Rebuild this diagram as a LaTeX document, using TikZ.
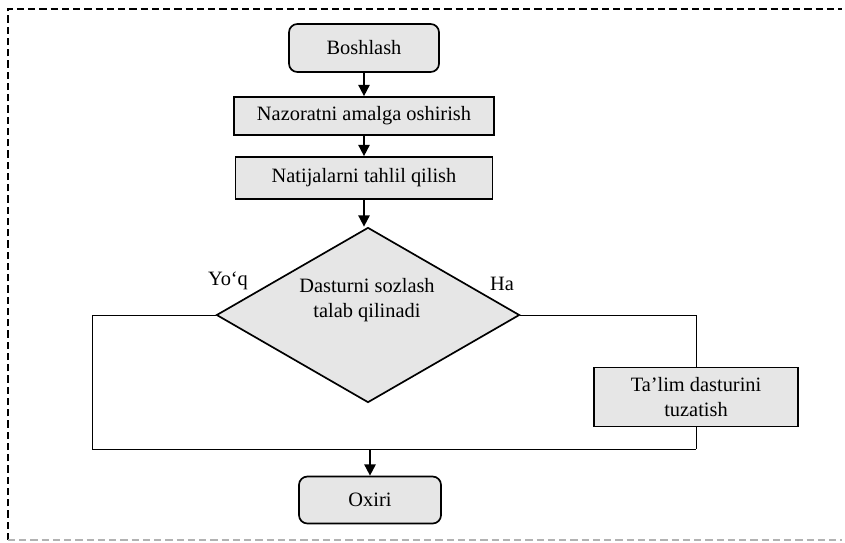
\documentclass[tikz,border=0pt]{standalone}
\usepackage{fontspec}
\setmainfont{Liberation Serif}
\usetikzlibrary{shapes.geometric,arrows.meta}
\definecolor{boxgray}{RGB}{230,230,230}
\begin{document}
\begin{tikzpicture}[x=0.025cm,y=-0.025cm,
    every node/.style={font=\fontsize{14.5}{18}\selectfont},
    terminal/.style={draw,line width=1.2pt,fill=boxgray,rounded corners=6pt,inner sep=0pt},
    stepbox/.style={draw,line width=1.2pt,fill=boxgray,inner sep=0pt,align=center},
    decision/.style={draw,line width=1.2pt,fill=boxgray,diamond,inner sep=0pt},
    arr/.style={line width=1.2pt,-{Triangle[length=8pt,width=8pt]}},
    loop/.style={line width=0.7pt}]
  \useasboundingbox (0,0) rectangle (845,542);
  % frame
  \draw [line width=1.1pt,dash pattern=on 5pt off 3pt] (8,540) -- (8,9) -- (842,9);
  \draw [gray!60,line width=1.1pt,dash pattern=on 5pt off 3pt] (8,540) -- (842,540);

  \node [terminal,minimum width=3.75cm,minimum height=1.2cm] (start) at (364,48) {Boshlash};
  \node [stepbox,minimum width=6.5cm,minimum height=0.95cm] (control) at (364,116) {Nazoratni amalga oshirish};
  \node [stepbox,minimum width=6.425cm,minimum height=1.05cm] (analyse) at (364,178) {Natijalarni tahlil qilish};
  \node [decision,minimum width=7.575cm,minimum height=4.375cm] (dec) at (368,315) {};
   \node [align=center] (dectext) at (367,300) {Dasturni sozlash\\talab qilinadi};
  \node [stepbox,minimum width=5.1cm,minimum height=1.475cm] (fix) at (696,397) {Ta’lim dasturini\\tuzatish};
  \node [terminal,minimum width=3.55cm,minimum height=1.175cm] (finish) at (370,500) {Oxiri};
   \node (no) at (228,281) {Yo‘q};
   \node (yes) at (502,284) {Ha};

  \coordinate (jl) at (92,449);
  \coordinate (jr) at (696,449);
  \coordinate (jm) at (370,449);

  \draw [arr] (start) -- (control);
  \draw [arr] (control) -- (analyse);
  \draw [arr] (analyse.south) -- (analyse.south |- dec.north);
  \draw [loop] (dec.west) -| (jl) -- (jr);
  \draw [loop] (dec.east) -| (fix.north);
  \draw [loop] (fix.south) -- (jr);
  \draw [arr] (jm) -- (finish);
\end{tikzpicture}
\end{document}
